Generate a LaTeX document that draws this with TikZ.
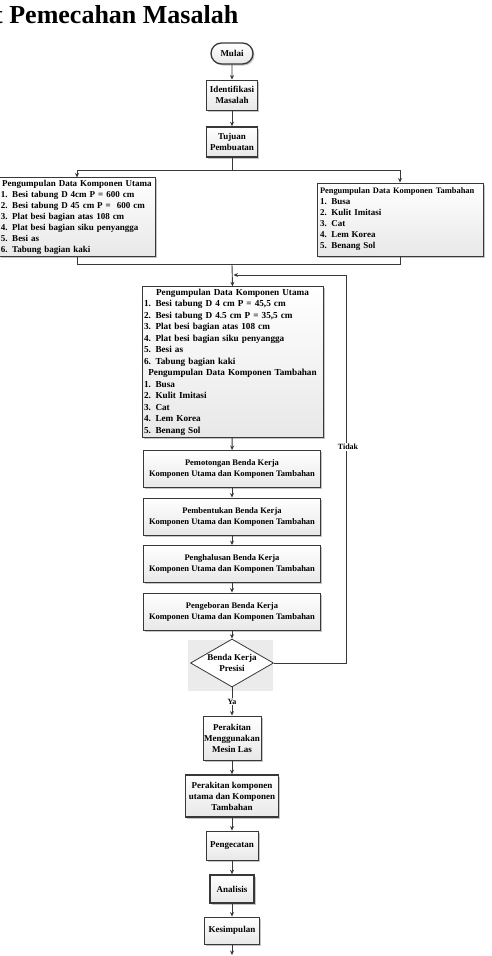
\documentclass[tikz,border=0pt]{standalone}
\usepackage{fontspec}
\setmainfont{Liberation Serif}
\usetikzlibrary{arrows.meta,shapes.geometric,shapes.misc,shadows}
\begin{document}
\begin{tikzpicture}[x=1pt,y=-1pt,
  base/.style={draw=black!78, line width=0.9pt, top color=white, bottom color=black!9,
    drop shadow={shadow xshift=1.5pt,shadow yshift=-1.5pt,fill=black!45},
    font=\bfseries\fontsize{9}{11}\selectfont, align=center, inner sep=1pt},
  proc/.style={base, rectangle},
  heavy/.style={line width=1.6pt},
  listbox/.style={proc, align=left, inner sep=2pt},
  wide/.style={proc, minimum width=177pt, minimum height=37pt, font=\bfseries\fontsize{8.5}{11}\selectfont},
  conn/.style={draw=black!78, line width=0.9pt},
  arr/.style={conn, -{Stealth[length=4.5pt,width=4pt]}},
  lbl/.style={font=\bfseries\fontsize{8}{9}\selectfont, inner sep=1pt, fill=white}
]
\useasboundingbox (0,0) rectangle (492,956);
\fill[white] (0,0) rectangle (492,956);

% title
\node[anchor=base west, inner sep=0, font=\bfseries\fontsize{26}{30}\selectfont] (title) at (-6,23) {t Pemecahan Masalah};

% top chain
\node[base, rounded rectangle, minimum width=44pt, minimum height=21pt, line width=1.3pt] (mulai) at (232,53.5) {Mulai};
\node[proc, minimum width=51pt, minimum height=30pt] (ident) at (232,95) {Identifikasi\\Masalah};
\node[proc, heavy, minimum width=51pt, minimum height=30pt] (tujuan) at (232,142) {Tujuan\\Pembuatan};

% side boxes
\node[listbox, text width=152pt, minimum height=76pt] (utama) at (77,217)
 {\makebox[152pt][c]{Pengumpulan Data Komponen Utama}\\
  1. Besi tabung D 4cm P = 600 cm\\
  2. Besi tabung D 45 cm P =\ \ 600 cm\\
  3. Plat besi bagian atas 108 cm\\
  4. Plat besi bagian siku penyangga\\
  5. Besi as\\
  6. Tabung bagian kaki};
\node[listbox, text width=160pt, inner sep=3pt, minimum height=73pt] (tambah) at (400,219.5)
 {{\fontsize{8.4}{10.7}\selectfont Pengumpulan Data Komponen Tambahan}\\
  1. Busa\\
  2. Kulit Imitasi\\
  3. Cat\\
  4. Lem Korea\\
  5. Benang Sol};

% main data box
\node[listbox, text width=177pt, minimum height=150pt, font=\bfseries\fontsize{9.2}{11.5}\selectfont] (data) at (232.5,362)
 {\makebox[177pt][c]{Pengumpulan Data Komponen Utama}\\
  1. Besi tabung D 4 cm P = 45,5 cm\\
  2. Besi tabung D 4.5 cm P = 35,5 cm\\
  3. Plat besi bagian atas 108 cm\\
  4. Plat besi bagian siku penyangga\\
  5. Besi as\\
  6. Tabung bagian kaki\\
  \makebox[177pt][c]{Pengumpulan Data Komponen Tambahan}\\
  1. Busa\\
  2. Kulit Imitasi\\
  3. Cat\\
  4. Lem Korea\\
  5. Benang Sol};

% process boxes
\node[wide] (potong) at (232,469) {Pemotongan Benda Kerja\\Komponen Utama dan Komponen Tambahan};
\node[wide] (bentuk) at (232,516.5) {Pembentukan Benda Kerja\\Komponen Utama dan Komponen Tambahan};
\node[wide] (halus) at (232,564) {Penghalusan Benda Kerja\\Komponen Utama dan Komponen Tambahan};
\node[wide] (bor) at (232,611.5) {Pengeboran Benda Kerja\\Komponen Utama dan Komponen Tambahan};

% decision
\fill[black!8] (188,640) rectangle (273,691);
\node[diamond, draw=black!78, line width=0.8pt, fill=white, minimum width=83pt, minimum height=48pt, inner sep=0pt] (dec) at (232,663) {};
\node[font=\bfseries\fontsize{9}{11.5}\selectfont, align=center, inner sep=0pt] (dectext) at (dec.center) {Benda Kerja\\Presisi};

% lower chain
\node[proc, minimum width=58pt, minimum height=44pt, inner sep=0pt] (las) at (232,738) {Perakitan\\Menggunakan\\Mesin Las};
\node[proc, heavy, minimum width=93pt, minimum height=42pt] (rakit) at (232,796) {Perakitan komponen\\utama dan Komponen\\Tambahan};
\node[proc, minimum width=52pt, minimum height=29pt] (cat) at (232,845.5) {Pengecatan};
\node[proc, heavy, minimum width=44pt, minimum height=28pt] (analisis) at (232,889) {Analisis};
\node[proc, minimum width=55pt, minimum height=27pt] (kesim) at (232,930.5) {Kesimpulan};

% connector coordinates
\coordinate (split) at (232,170);
\coordinate (merge) at (232,264.5);
\coordinate (loopTop) at (346,275);
\coordinate (loopEnd) at (233.5,275);
\coordinate (endpt) at (232,955);

% connectors
\draw[arr] (mulai) -- (ident);
\draw[arr] (ident) -- (tujuan);
\draw[conn] (tujuan.south) -- (split);
\draw[arr] (split) -| (utama.north);
\draw[arr] (split) -| (tambah.north);
\draw[conn] (utama.south) |- (merge);
\draw[conn] (tambah.south) |- (merge);
\draw[arr] (merge) -- (data.north);
\draw[arr] (data) -- (potong);
\draw[arr] (potong) -- (bentuk);
\draw[arr] (bentuk) -- (halus);
\draw[arr] (halus) -- (bor);
\draw[arr] (bor) -- (dec.north);
\draw[arr] (dec.east) -| (loopTop) -- (loopEnd);
\node[lbl] (tidak) at (348,447) {Tidak};
\draw[arr] (dec.south) -- (las.north) node[lbl, pos=0.5] (ya) {Ya};
\draw[arr] (las) -- (rakit);
\draw[arr] (rakit) -- (cat);
\draw[arr] (cat) -- (analisis);
\draw[arr] (analisis) -- (kesim);
\draw[arr] (kesim) -- (endpt);
\end{tikzpicture}
\end{document}
